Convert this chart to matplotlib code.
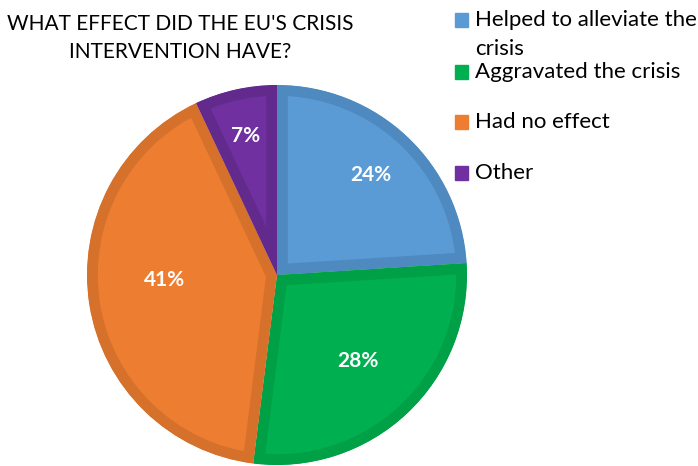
"""Pie chart: what effect did the EU's crisis intervention have?"""

import matplotlib
matplotlib.use("Agg")
import matplotlib.pyplot as plt
import numpy as np
from matplotlib.patches import Rectangle

categories = ["Helped to alleviate the\ncrisis", "Aggravated the crisis",
              "Had no effect", "Other"]
shares = [24, 28, 41, 7]
fill_colors = ["#5B9BD5", "#00B050", "#ED7D31", "#7030A0"]
edge_colors = ["#4E89C0", "#00A047", "#D6712C", "#632A8E"]
label_dist = [0.72, 0.62, 0.595, 0.75]
label_shift = [0, 0, -6.5, 0]   # degrees

plt.rcParams["font.family"] = ["Lato", "DejaVu Sans"]

fig = plt.figure(figsize=(6.98, 4.66), dpi=100)
W, H = 698, 466

# pie axes: centre (277, 275) px, radius 190 px
ax = fig.add_axes([87 / W, (H - 465) / H, 380 / W, 380 / H])
wedges, texts, autotexts = ax.pie(
    shares, colors=fill_colors, startangle=90, counterclock=False,
    autopct="%d%%", pctdistance=0.65, radius=1.0,
    wedgeprops=dict(linewidth=15.5, joinstyle="miter"),
    textprops=dict(color="white", fontsize=15, fontweight="bold"))
# darker border drawn only on the inside of each wedge
for w, ec in zip(wedges, edge_colors):
    w.set_edgecolor(ec)
    w.set_clip_on(True)
    w.set_clip_path(w)
for t, d, s, w in zip(autotexts, label_dist, label_shift, wedges):
    ang = np.deg2rad((w.theta1 + w.theta2) / 2 + s)
    t.set_position((d * np.cos(ang), d * np.sin(ang)))
ax.set_xlim(-1, 1)
ax.set_ylim(-1, 1)
ax.set_aspect("equal")

fig.text(180 / W, 1 - 38 / H, "WHAT EFFECT DID THE EU'S CRISIS\nINTERVENTION HAVE?",
         ha="center", va="center", fontsize=15, linespacing=1.45)

# legend
leg_y = [20, 72, 122, 173]
for lab, c, y in zip(categories, fill_colors, leg_y):
    fig.patches.append(Rectangle((455 / W, 1 - (y + 7) / H), 13 / W, 14 / H,
                                 transform=fig.transFigure, color=c))
    fig.text(475 / W, 1 - (y - 10) / H, lab, ha="left", va="top",
             fontsize=16, linespacing=1.55)

fig.savefig("out.png", dpi=100, facecolor="white")
